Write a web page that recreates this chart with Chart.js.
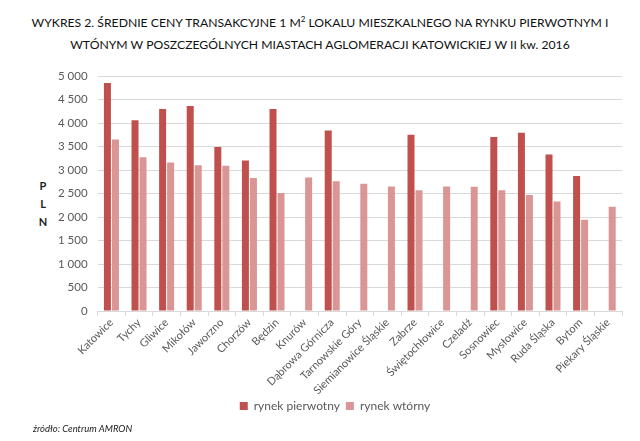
<!DOCTYPE html>
<html>
<head>
<meta charset="utf-8">
<script src="https://cdn.jsdelivr.net/npm/chart.js@4"></script>
<style>
  body { margin: 0; background: #fff; font-family: Lato, sans-serif; }
  #wrap { position: relative; width: 640px; height: 441px; }
  #title { position: absolute; left: 0; top: 8px; width: 640px; text-align: center; font-size: 12.2px; line-height: 22px; color: #111; }
  #ylab { position: absolute; left: 36px; top: 177px; width: 14px; text-align: center; font-size: 11px; font-weight: bold; line-height: 18px; color: #222; }
  #src { position: absolute; left: 33px; top: 423px; font-size: 9.5px; font-style: italic; color: #222; }
  canvas { position: absolute; left: 0; top: 0; }
</style>
</head>
<body>
<div id="wrap">
  <div id="title">WYKRES 2. ŚREDNIE CENY TRANSAKCYJNE 1 M<sup style="font-size:8px">2</sup> LOKALU MIESZKALNEGO NA RYNKU PIERWOTNYM I<br>WTÓNYM W POSZCZEGÓLNYCH MIASTACH AGLOMERACJI KATOWICKIEJ W II kw. 2016</div>
  <div id="ylab">P<br>L<br>N</div>
  <canvas id="chart" width="640" height="441"></canvas>
  <div id="src">źródło: Centrum AMRON</div>
</div>
<script>
// categories and values (PLN per m2)
const cities = ["Katowice", "Tychy", "Gliwice", "Mikołów", "Jaworzno", "Chorzów", "Będzin", "Knurów",
  "Dąbrowa Górnicza", "Tarnowskie Góry", "Siemianowice Śląskie", "Zabrze", "Świętochłowice", "Czeladź",
  "Sosnowiec", "Mysłowice", "Ruda Śląska", "Bytom", "Piekary Śląskie"];
const primary = [4850, 4060, 4300, 4360, 3490, 3200, 4300, null, 3840, null, null, 3750, null, null, 3700, 3790, 3330, 2870, null];
const secondary = [3650, 3270, 3160, 3100, 3090, 2830, 2510, 2840, 2760, 2710, 2650, 2570, 2650, 2645, 2570, 2470, 2330, 1940, 2220];
const yTicks = [0, 500, 1000, 1500, 2000, 2500, 3000, 3500, 4000, 4500, 5000];

const fmt = v => v.toString().replace(/\B(?=(\d{3})+(?!\d))/g, " ");

new Chart(document.getElementById("chart"), {
    type: "bar",
    data: {
        labels: cities,
        datasets: [
            { label: "rynek pierwotny", data: primary, backgroundColor: "#C0504D" },
            { label: "rynek wtórny", data: secondary, backgroundColor: "#D99694" }
        ]
    },
    options: {
        responsive: false,
        animation: false,
        datasets: { bar: { categoryPercentage: 0.58, barPercentage: 0.875 } },
        layout: { padding: { left: 48, right: 18, top: 76, bottom: 19 } },
        plugins: {
            legend: {
                position: "bottom",
                labels: { boxWidth: 8, boxHeight: 8, color: "#595959", font: { family: "Lato", size: 12 }, padding: 6 }
            },
            tooltip: { enabled: false }
        },
        scales: {
            x: {
                afterFit: axis => { axis.height = 83; },
                grid: { offset: true, drawOnChartArea: false, tickLength: 5, color: "#D9D9D9" },
                border: { color: "#D9D9D9" },
                ticks: { color: "#595959", font: { family: "Lato", size: 11 }, maxRotation: 45, minRotation: 45, autoSkip: false, padding: 0 }
            },
            y: {
                min: 0, max: 5000,
                afterBuildTicks: axis => { axis.ticks = yTicks.map(v => ({ value: v })); },
                grid: { color: "#D9D9D9", drawTicks: false },
                border: { display: false },
                ticks: { color: "#595959", font: { family: "Lato", size: 11.5 }, padding: 10, callback: v => fmt(v) }
            }
        }
    }
});
</script>
</body>
</html>
